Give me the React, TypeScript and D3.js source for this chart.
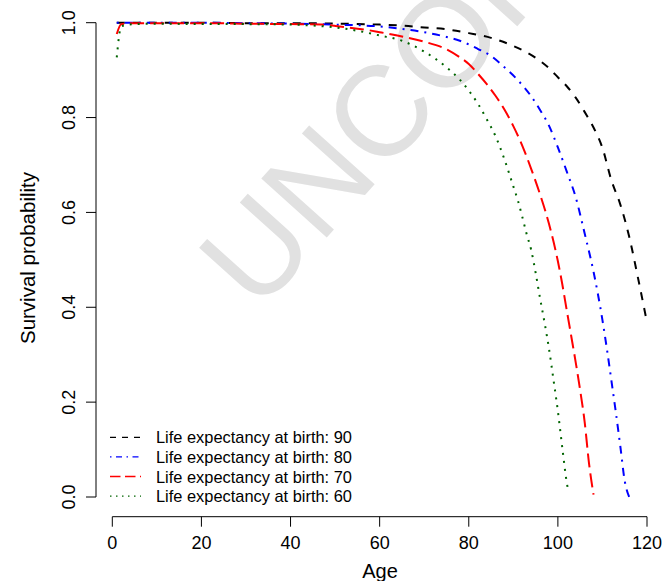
import React from "react";
import * as d3 from "d3";

// ---- Data ----
const ages90 = [1, 10, 20, 30, 40, 50, 60, 65, 70, 75, 80, 85, 90, 95, 98, 100, 102, 104, 106, 108, 110, 112, 114, 116, 118, 120];
const surv90 = [1.0, 1.0, 1.0, 0.999, 0.999, 0.998, 0.996, 0.994, 0.99, 0.986, 0.978, 0.968, 0.951, 0.926, 0.904, 0.885, 0.866, 0.842, 0.812, 0.779, 0.736, 0.668, 0.617, 0.549, 0.461, 0.368];

const ages80 = [1, 10, 20, 30, 40, 50, 60, 65, 70, 75, 78, 82, 85, 88, 91, 94, 96, 98, 100, 102, 104, 106, 108, 110, 111, 112, 113, 114, 115, 116];
const surv80 = [1.0, 1.0, 1.0, 0.999, 0.998, 0.996, 0.992, 0.987, 0.98, 0.97, 0.962, 0.945, 0.93, 0.906, 0.879, 0.845, 0.816, 0.783, 0.737, 0.686, 0.632, 0.556, 0.475, 0.373, 0.312, 0.246, 0.179, 0.108, 0.034, 0.0];

const ages70 = [1, 2, 5, 10, 20, 30, 40, 47, 51, 57, 60, 65, 70, 75, 78, 80, 82, 84, 86, 88, 90, 92, 94, 96, 98, 100, 101, 102, 103, 104, 105, 106, 107, 108];
const surv70 = [0.976, 0.997, 0.999, 0.999, 0.999, 0.998, 0.997, 0.996, 0.992, 0.985, 0.98, 0.971, 0.96, 0.944, 0.927, 0.913, 0.893, 0.871, 0.846, 0.817, 0.782, 0.741, 0.692, 0.638, 0.576, 0.497, 0.448, 0.393, 0.339, 0.284, 0.225, 0.159, 0.07, 0.005];

const ages60 = [1, 2, 3, 5, 10, 20, 30, 40, 45, 50, 55, 60, 65, 70, 75, 78, 80, 82, 84, 86, 88, 90, 91, 92, 93, 94, 95, 96, 97, 98, 99, 100, 101, 102, 102.4];
const surv60 = [0.927, 0.992, 0.995, 0.997, 0.998, 0.997, 0.997, 0.996, 0.994, 0.99, 0.983, 0.973, 0.962, 0.939, 0.906, 0.88, 0.857, 0.83, 0.797, 0.761, 0.712, 0.655, 0.626, 0.591, 0.554, 0.521, 0.473, 0.419, 0.368, 0.313, 0.248, 0.181, 0.103, 0.03, 0.01];

const legendLabels = [
  "Life expectancy at birth: 90",
  "Life expectancy at birth: 80",
  "Life expectancy at birth: 70",
  "Life expectancy at birth: 60",
];
const xTicks = [0, 20, 40, 60, 80, 100, 120];
const yTicks = [0, 0.2, 0.4, 0.6, 0.8, 1.0];
const yTickLabels = ["0.0", "0.2", "0.4", "0.6", "0.8", "1.0"];
const xTitle = "Age";
const yTitle = "Survival probability";
const watermark = "UNCORRECTED PROOF";

const series = [
  { ages: ages90, surv: surv90, color: "#000000", dash: "8,8", legendDash: "6,6" },
  { ages: ages80, surv: surv80, color: "#0000ff", dash: "2,6,8,6", legendDash: "1.5,4.5,6,4.5" },
  { ages: ages70, surv: surv70, color: "#ff0000", dash: "14,6", legendDash: "10.5,4.5" },
  { ages: ages60, surv: surv60, color: "#006400", dash: "2,6", legendDash: "1.5,4.5" },
];

const FONT = "'Liberation Sans', Arial, Helvetica, sans-serif";

export default function App() {
  const W = 664;
  const H = 581;
  const x = d3.scaleLinear().domain([0, 120]).range([112.3, 647]);
  const y = d3.scaleLinear().domain([0, 1]).range([497, 22.7]);
  const line = d3
    .line<[number, number]>()
    .x((d) => x(d[0]))
    .y((d) => y(d[1]))
    .curve(d3.curveMonotoneX);

  const axisY = 516.7;
  const axisX = 96;

  return (
    <svg
      width={W}
      height={H}
      style={{ position: "absolute", left: 0, top: 0, background: "#fff", display: "block", overflow: "hidden" }}
      fontFamily={FONT}
    >
      <rect x={0} y={0} width={W} height={H} fill="#fff" />
      <clipPath id="page">
        <rect x={0} y={0} width={W} height={H} />
      </clipPath>
      {/* watermark */}
      <g clipPath="url(#page)">
        <text transform="translate(258,314) rotate(-48)" fontSize={128} fill="#e1e1e1">
          {watermark}
        </text>
      </g>

      {/* curves */}
      {series.map((s, i) => (
        <path
          key={i}
          d={line(s.ages.map((a, j) => [a, s.surv[j]] as [number, number])) || ""}
          fill="none"
          stroke={s.color}
          strokeWidth={2}
          strokeDasharray={s.dash}
        />
      ))}

      {/* x axis */}
      <line x1={x(0)} x2={x(120)} y1={axisY} y2={axisY} stroke="#000" strokeWidth={1} />
      {xTicks.map((t) => (
        <g key={t}>
          <line x1={x(t)} x2={x(t)} y1={axisY} y2={axisY + 10} stroke="#000" strokeWidth={1} />
          <text x={x(t)} y={549} fontSize={18} textAnchor="middle" fill="#000">
            {t}
          </text>
        </g>
      ))}
      <text x={380} y={577.5} fontSize={20} textAnchor="middle" fill="#000">
        {xTitle}
      </text>

      {/* y axis */}
      <line x1={axisX} x2={axisX} y1={y(0)} y2={y(1)} stroke="#000" strokeWidth={1} />
      {yTicks.map((t, i) => (
        <g key={t}>
          <line x1={axisX - 10} x2={axisX} y1={y(t)} y2={y(t)} stroke="#000" strokeWidth={1} />
          <text
            transform={`translate(75,${y(t)}) rotate(-90)`}
            fontSize={18}
            textAnchor="middle"
            fill="#000"
          >
            {yTickLabels[i]}
          </text>
        </g>
      ))}
      <text transform="translate(34.5,258) rotate(-90)" fontSize={20.5} textAnchor="middle" fill="#000">
        {yTitle}
      </text>

      {/* legend */}
      {series.map((s, i) => {
        const cy = 437.3 + i * 19.6;
        return (
          <g key={"lg" + i}>
            <line
              x1={110}
              x2={141}
              y1={cy}
              y2={cy}
              stroke={s.color}
              strokeWidth={1.3}
              strokeDasharray={s.legendDash}
            />
            <text x={156} y={cy + 6} fontSize={16.4} fill="#000">
              {legendLabels[i]}
            </text>
          </g>
        );
      })}
    </svg>
  );
}
